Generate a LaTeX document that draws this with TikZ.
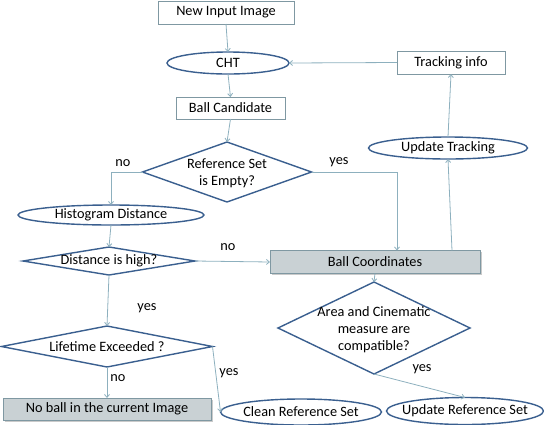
\documentclass[tikz,border=0pt]{standalone}
\usepackage{fontspec}
\setmainfont{Carlito}
\usetikzlibrary{shapes.geometric,arrows.meta,shadows}
\definecolor{boxc}{HTML}{7F98A2}
\definecolor{darkc}{HTML}{3A5F8F}
\definecolor{arrc}{HTML}{8DB0BE}
\definecolor{grayf}{HTML}{C9D1D4}
\tikzset{
  every node/.style={font=\fontsize{14.3}{17}\selectfont, inner sep=0pt, outer sep=0pt},
  rbox/.style={draw=boxc, line width=0.8pt, fill=white, rectangle},
  gbox/.style={draw=boxc, line width=0.8pt, fill=grayf, rectangle, drop shadow={shadow xshift=1.5pt, shadow yshift=-1.5pt, fill=black!35, opacity=0.6}},
  ell/.style={draw=darkc, line width=1.4pt, ellipse, fill=white},
  dia/.style={draw=darkc, line width=1.4pt, diamond, fill=white, align=center},
  conn/.style={draw=arrc, line width=0.8pt, -{Straight Barb[length=3pt,width=5pt]}},
  lbl/.style={font=\fontsize{14.3}{17}\selectfont}
}
\begin{document}
\begin{tikzpicture}[x=1pt,y=-1pt]
\useasboundingbox (0,0) rectangle (544,424);
% boxes
\node[rbox, minimum width=136pt, minimum height=23pt] (input) at (226,12.5) {New Input Image};
\node[ell, minimum width=122pt, minimum height=22pt] (cht) at (228,63) {};
\node at (cht) {CHT};
\node[rbox, minimum width=109pt, minimum height=22pt] (cand) at (230.5,108) {Ball Candidate};
\node[dia, minimum width=169pt, minimum height=60pt] (ref) at (227,172) {};
\node[align=center] at (227,173) {Reference Set\\is Empty?};
\node[ell, minimum width=186pt, minimum height=20pt] (hist) at (111,215) {};
\node at (hist) {Histogram Distance};
\node[dia, minimum width=172pt, minimum height=28pt] (dist) at (109,261) {};
\node at (109,261) {Distance is high?};
\node[gbox, minimum width=210pt, minimum height=23pt] (coord) at (375,262) {Ball Coordinates};
\node[ell, minimum width=159pt, minimum height=22pt] (upd) at (448,148) {};
\node at (upd) {Update Tracking};
\node[rbox, minimum width=108pt, minimum height=23pt] (track) at (451,62.5) {Tracking info};
\node[dia, minimum width=192pt, minimum height=92pt] (area) at (374,328) {};
\node[align=center] at (374,330) {Area and Cinematic\\measure are\\compatible?};
\node[dia, minimum width=211pt, minimum height=41pt] (life) at (107,346.5) {};
\node at (107,346.5) {Lifetime Exceeded ?};
\node[gbox, minimum width=208pt, minimum height=22pt] (noball) at (107,409) {No ball in the current Image};
\node[ell, minimum width=161pt, minimum height=26pt] (clean) at (301,412) {};
\node at (clean) {Clean Reference Set};
\node[ell, minimum width=157pt, minimum height=27pt] (updref) at (465,411) {};
\node at (updref) {Update Reference Set};
% connectors
\draw[conn] (input.south) -- (cht.north);
\draw[conn] (cht.south) -- (cand.north);
\draw[conn] (cand.south) -- (ref.north);
\draw[conn] (ref.west) -| (hist.north);
\draw[conn] (ref.east) -| ([xshift=22pt]coord.north);
\draw[conn] (hist.south) -- (dist.north);
\draw[conn] (dist.east) -- (coord.west);
\draw[conn] ([xshift=77pt]coord.north) -- (upd.south);
\draw[conn] (upd.north) -- (track.south);
\draw[conn] (track.west) -- (cht.east);
\draw[conn] (coord.south) -- (area.north);
\draw[conn] (dist.south) -- (life.north);
\draw[conn] (life.south) -- (noball.north);
\draw[conn] (life.east) -- (clean.west);
\draw[conn] (area.south) -- (updref.north);
% labels
\node[lbl] at (123,163) {no};
\node[lbl] at (339,162) {yes};
\node[lbl] at (228,247) {no};
\node[lbl] at (147,308) {yes};
\node[lbl] at (118,378) {no};
\node[lbl] at (229,373) {yes};
\node[lbl] at (422,369) {yes};
\end{tikzpicture}
\end{document}
